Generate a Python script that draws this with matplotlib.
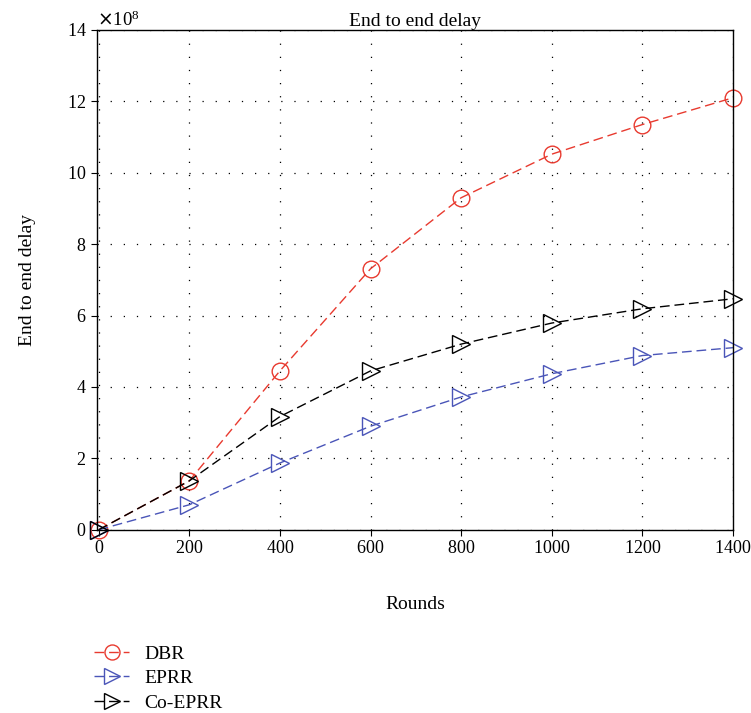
import matplotlib
matplotlib.use('Agg')
import matplotlib.pyplot as plt
import numpy as np

plt.rcParams['font.family'] = ['Liberation Serif', 'DejaVu Serif']
plt.rcParams['axes.formatter.use_mathtext'] = True

rounds = [0, 200, 400, 600, 800, 1000, 1200, 1400]
dbr = [0, 1.37, 4.45, 7.31, 9.3, 10.52, 11.35, 12.1]
eprr = [0, 0.7, 1.87, 2.9, 3.72, 4.37, 4.88, 5.1]
co_eprr = [0, 1.37, 3.17, 4.45, 5.2, 5.79, 6.19, 6.47]
scale = 1e8

fig = plt.figure(figsize=(7.51, 7.13), dpi=100)
ax = fig.add_axes([0.129, 0.257, 0.847, 0.701])

common = dict(mfc='none', mew=1.0, lw=1.0, dashes=(7, 3.5), clip_on=False)
ax.plot(rounds, np.array(dbr) * scale, '--o', color='#e83a2f', ms=12,
        label='DBR', **common)
ax.plot(rounds, np.array(eprr) * scale, '-->', color='#4a55b8', ms=12.5,
        label='EPRR', **common)
ax.plot(rounds, np.array(co_eprr) * scale, '-->', color='black', ms=12.5,
        label='Co-EPRR', **common)

ax.set_xlim(-4, 1400)
ax.set_ylim(0, 14 * scale)
ax.set_xticks(rounds)
ax.set_yticks(np.arange(0, 15, 2) * scale)
ax.ticklabel_format(axis='y', style='sci', scilimits=(8, 8))
ax.yaxis.get_offset_text().set_fontsize(13.5)
ax.tick_params(labelsize=13, direction='out', length=4)
ax.grid(True, linestyle=(0, (1, 9.5)), color='black', lw=0.9)
for s in ax.spines.values():
    s.set_linewidth(1.0)

ax.set_title('End to end delay', fontsize=14, pad=3)
ax.set_ylabel('End to end delay', fontsize=14, labelpad=22)
ax.set_xlabel('Rounds', fontsize=14, labelpad=28)

ax.legend(loc='upper left', bbox_to_anchor=(-0.032, -0.196), frameon=False,
          fontsize=14, handlelength=1.8, labelspacing=0.35, handletextpad=0.8,
          markerscale=0.9)

fig.savefig('out.png', dpi=100)
